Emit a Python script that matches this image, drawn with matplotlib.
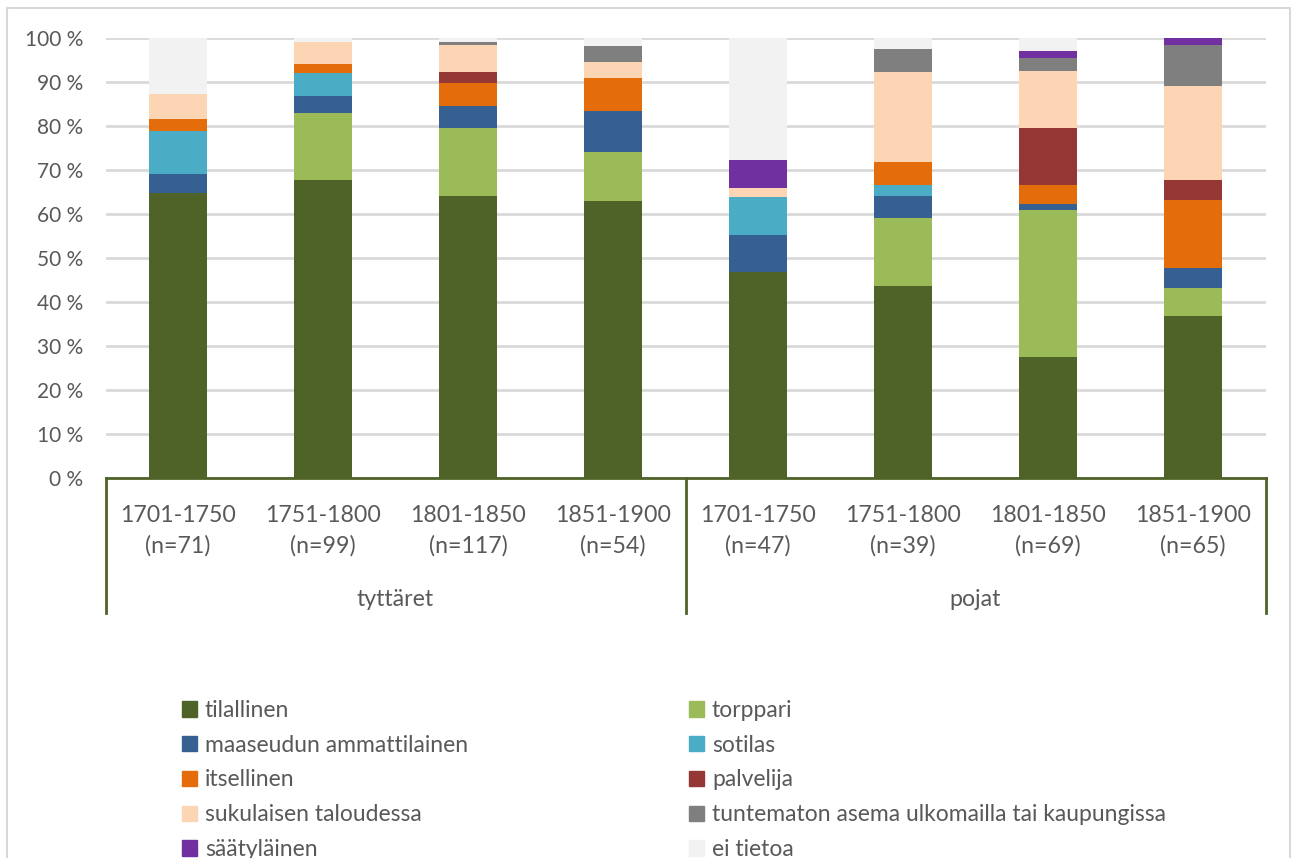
import matplotlib.pyplot as plt
import matplotlib.transforms as mtransforms
from matplotlib.patches import Rectangle, Patch
from matplotlib.lines import Line2D
import numpy as np

plt.rcParams['font.family'] = ['Lato', 'DejaVu Sans']

periods = ["1701-1750", "1751-1800", "1801-1850", "1851-1900",
           "1701-1750", "1751-1800", "1801-1850", "1851-1900"]
sizes = ["(n=71)", "(n=99)", "(n=117)", "(n=54)",
         "(n=47)", "(n=39)", "(n=69)", "(n=65)"]
groups = ["tyttäret", "pojat"]

series = ["tilallinen", "torppari", "maaseudun ammattilainen", "sotilas",
          "itsellinen", "palvelija", "sukulaisen taloudessa",
          "tuntematon asema ulkomailla tai kaupungissa", "säätyläinen", "ei tietoa"]

tilallinen = [64.8, 67.7, 64.1, 63.0, 46.8, 43.6, 27.5, 36.9]
torppari = [0, 15.2, 15.4, 11.1, 0, 15.4, 33.3, 6.2]
maaseudun = [4.2, 4.0, 5.1, 9.3, 8.5, 5.1, 1.5, 4.6]
sotilas = [9.9, 5.1, 0, 0, 8.5, 2.6, 0, 0]
itsellinen = [2.8, 2.0, 5.1, 7.4, 0, 5.1, 4.3, 15.4]
palvelija = [0, 0, 2.6, 0, 0, 0, 13.0, 4.6]
sukulainen = [5.6, 5.1, 6.0, 3.7, 2.1, 20.5, 13.0, 21.5]
tuntematon = [0, 0, 0.9, 3.7, 0, 5.1, 2.9, 9.2]
saatylainen = [0, 0, 0, 0, 6.4, 0, 1.5, 1.5]
ei_tietoa = [12.7, 1.0, 0.9, 1.9, 27.7, 2.6, 2.9, 0]

values = [tilallinen, torppari, maaseudun, sotilas, itsellinen, palvelija,
          sukulainen, tuntematon, saatylainen, ei_tietoa]
colors = ["#4F6228", "#9BBB59", "#376092", "#4BACC6", "#E46C0A",
          "#953735", "#FCD5B5", "#7F7F7F", "#7030A0", "#F2F2F2"]

W, H = 1293, 858
fig = plt.figure(figsize=(W / 100, H / 100), dpi=100)
ax = fig.add_axes([105.5 / W, 1 - 478 / H, 1160 / W, 440 / H])

txt = "#595959"
axis_col = "#4F6228"

x = np.arange(len(periods))
bottom = np.zeros(len(periods))
for name, vals, c in zip(series, values, colors):
    ax.bar(x, vals, 0.4, bottom=bottom, color=c, label=name, zorder=3)
    bottom += np.array(vals)

ax.set_xlim(-0.5, 7.5)
ax.set_ylim(0, 100)
ax.set_yticks(np.arange(0, 101, 10))
ax.set_yticklabels([f"{v} %" for v in range(0, 101, 10)], color=txt, fontsize=15)
ax.tick_params(axis="y", length=0, pad=16)
ax.set_xticks([])
ax.grid(axis="y", color="#D9D9D9", linewidth=2, zorder=0)
for s in ["left", "right", "top"]:
    ax.spines[s].set_visible(False)
ax.spines["bottom"].set_color(axis_col)
ax.spines["bottom"].set_linewidth(2)

# multi-level category axis
tr = mtransforms.blended_transform_factory(ax.transData, fig.transFigure)
for xi, p, n in zip(x, periods, sizes):
    ax.text(xi, 1 - 515 / H, p, transform=tr, ha="center", va="center",
            fontsize=16.7, color=txt)
    ax.text(xi, 1 - 546 / H, n, transform=tr, ha="center", va="center",
            fontsize=16.7, color=txt)
for gi, g in enumerate(groups):
    ax.text(1.5 + 4 * gi, 1 - 600 / H, g, transform=tr, ha="center", va="center",
            fontsize=16.7, color=txt)
for xs in [-0.5, 3.5, 7.5]:
    ax.add_line(Line2D([xs, xs], [1 - 478 / H, 1 - 613 / H], transform=tr,
                       color=axis_col, linewidth=2, clip_on=False))

# chart frame
fig.patches.append(Rectangle((7 / W, -0.01), 1283 / W, 1 - 8 / H + 0.01,
                             transform=fig.transFigure, fill=False,
                             edgecolor="#D9D9D9", linewidth=1.5))

handles = [Patch(color=c) for c in colors]
col1 = [0, 2, 4, 6, 8]
col2 = [1, 3, 5, 7, 9]
for idx, x0 in [(col1, 182), (col2, 689)]:
    leg = fig.legend([handles[i] for i in idx], [series[i] for i in idx],
                     loc="upper left", bbox_to_anchor=(x0 / W, 1 - 700 / H),
                     frameon=False, fontsize=16.5, handlelength=0.65,
                     handleheight=0.65, handletextpad=0.35, labelspacing=0.6,
                     borderpad=0, borderaxespad=0)
    for t in leg.get_texts():
        t.set_color(txt)

fig.savefig("out.png", dpi=100)
